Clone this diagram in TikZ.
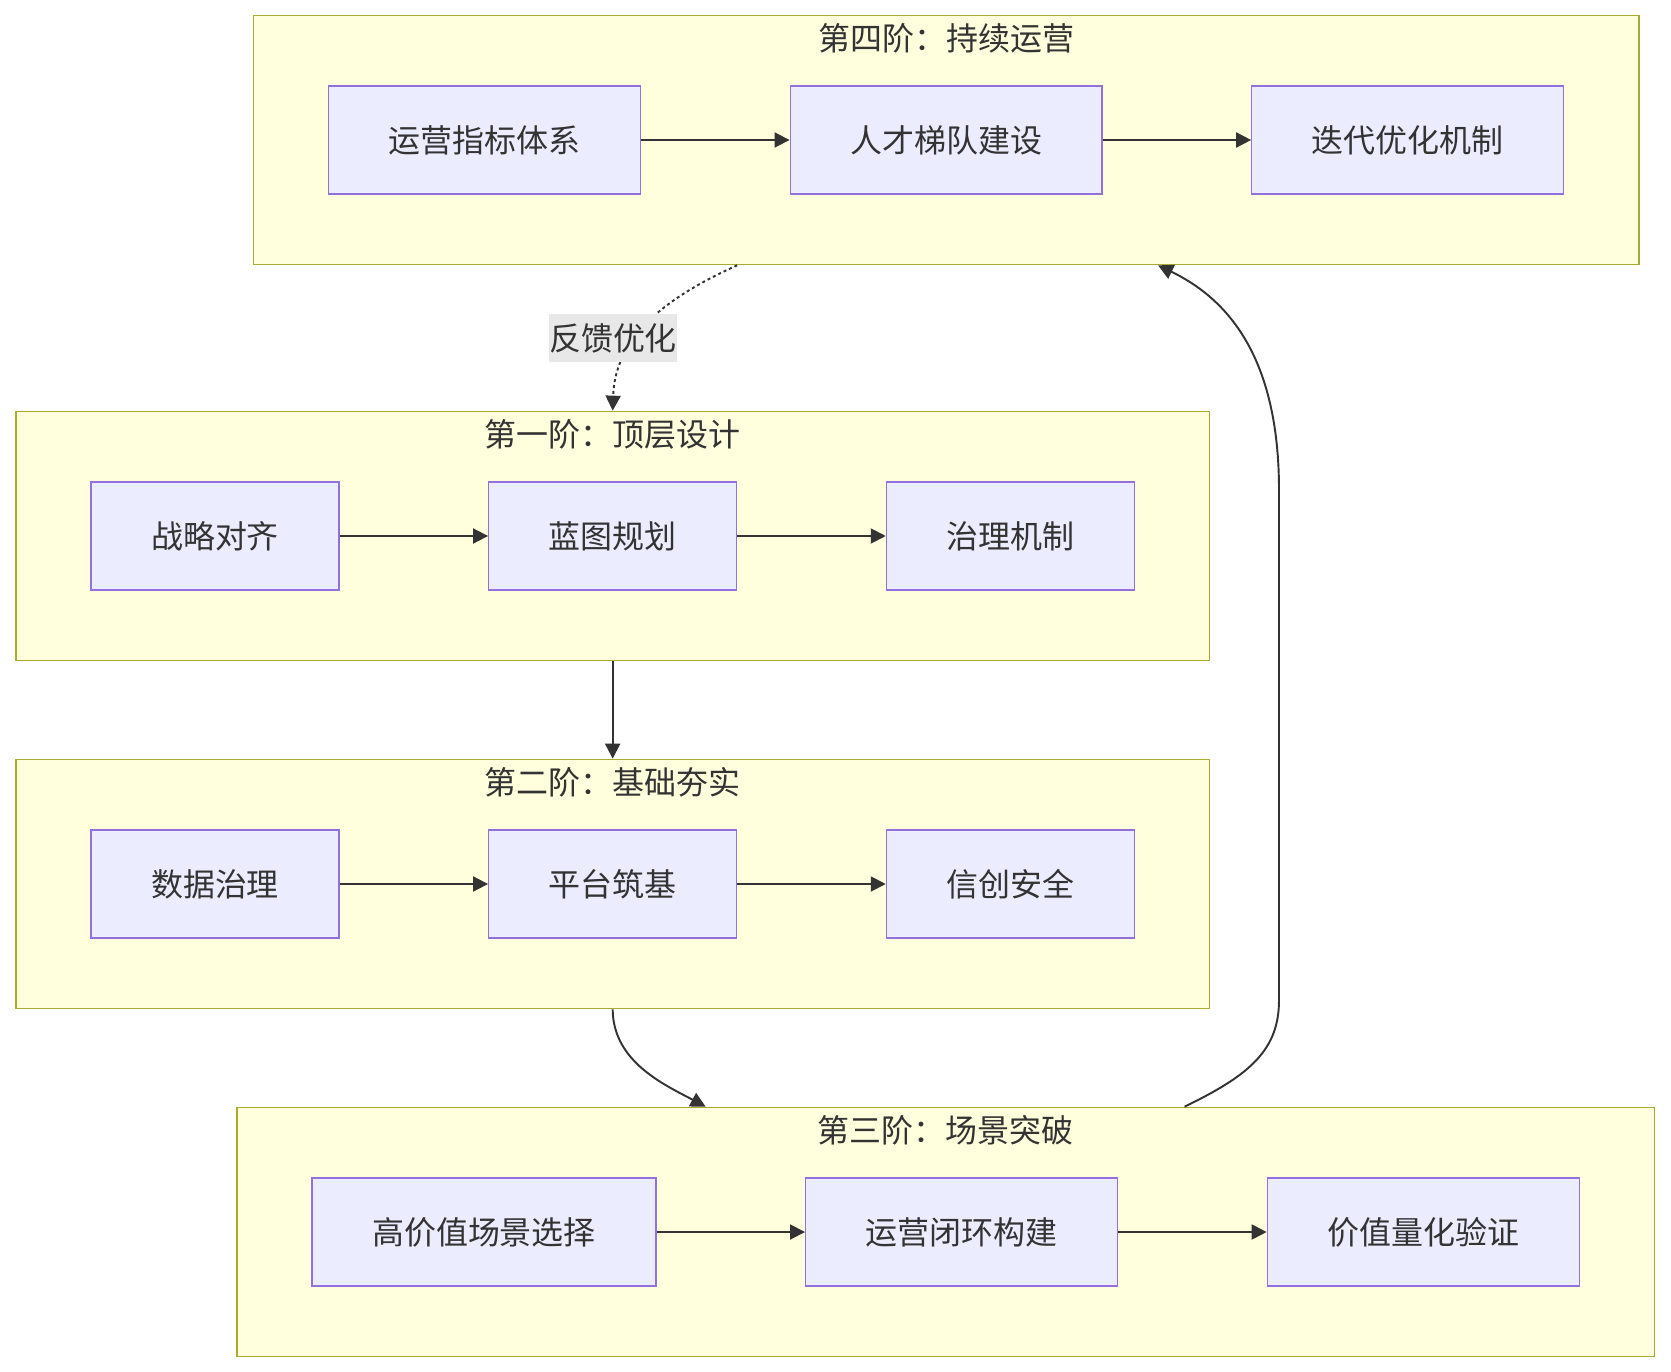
\documentclass[tikz,border=0pt]{standalone}
\usepackage{fontspec}
\setmainfont{Noto Sans CJK SC}
\usepackage{xcolor}
\usepackage{tikz}
\usetikzlibrary{arrows.meta,positioning,fit,backgrounds}
\definecolor{ink}{HTML}{333333}
\definecolor{stagefill}{HTML}{FFFFDE}
\definecolor{stageline}{HTML}{AAAA33}
\definecolor{stepfill}{HTML}{ECECFF}
\definecolor{stepline}{HTML}{9370DB}
\definecolor{tagfill}{HTML}{E8E8E8}
\tikzset{
  stepbox/.style  ={draw=stepline,line width=0.75pt,fill=stepfill,text=ink,
                    minimum height=2.16cm,inner xsep=1.2cm,inner ysep=0pt},
  stage/.style    ={draw=stageline,line width=0.8pt,fill=stagefill,
                    inner xsep=1.49cm,inner ysep=1.4cm},
  stagetitle/.style={text=ink,inner sep=0pt},
  flow/.style     ={-{Triangle[length=3mm,width=3mm]},line width=1.1pt,draw=ink},
  feedback/.style ={flow,dash pattern=on 1.7pt off 1.7pt},
  tag/.style      ={fill=tagfill,text=ink,inner xsep=0pt,inner ysep=0pt,
                    minimum height=0.96cm}
}

\begin{document}
\begin{tikzpicture}[x=0.02cm,y=-0.02cm,every node/.style={font=\fontsize{18.2pt}{22pt}\selectfont},
                    node distance=2.97cm]
        \useasboundingbox (0,0) rectangle (1671,1372);
        \node[stepbox] (ind) at (484.5,140) {运营指标体系};
        \node[stepbox,right=of ind] (talent) {人才梯队建设};
        \node[stepbox,right=of talent] (iter) {迭代优化机制};
        \node[stepbox] (strat) at (215,536) {战略对齐};
        \node[stepbox,right=of strat] (blue) {蓝图规划};
        \node[stepbox,right=of blue] (gov) {治理机制};
        \node[stepbox] (data) at (215,884) {数据治理};
        \node[stepbox,right=of data] (plat) {平台筑基};
        \node[stepbox,right=of plat] (xc) {信创安全};
        \node[stepbox] (pick) at (484,1232) {高价值场景选择};
        \node[stepbox,right=of pick] (loop) {运营闭环构建};
        \node[stepbox,right=of loop] (value) {价值量化验证};
        \begin{scope}[on background layer]
          \node[stage,fit=(ind)(iter)] (s4) {};
          \node[stage,fit=(strat)(gov)] (s1) {};
          \node[stage,fit=(data)(xc)] (s2) {};
          \node[stage,fit=(pick)(value)] (s3) {};
        \end{scope}
        \node[stagetitle] (s4t) at ([yshift=-0.47cm]s4.north) {第四阶：持续运营};
        \node[stagetitle] (s1t) at ([yshift=-0.47cm]s1.north) {第一阶：顶层设计};
        \node[stagetitle] (s2t) at ([yshift=-0.47cm]s2.north) {第二阶：基础夯实};
        \node[stagetitle] (s3t) at ([yshift=-0.47cm]s3.north) {第三阶：场景突破};
        \draw[flow] (ind) -- (talent);
        \draw[flow] (talent) -- (iter);
        \draw[flow] (strat) -- (blue);
        \draw[flow] (blue) -- (gov);
        \draw[flow] (data) -- (plat);
        \draw[flow] (plat) -- (xc);
        \draw[flow] (pick) -- (loop);
        \draw[flow] (loop) -- (value);
        \draw[feedback] ([xshift=-4.18cm]s4.south) .. controls (660,300) and (615,340) .. (s1.north);
        \node[tag] (fb) at (613,338) {反馈优化};
        \draw[flow] (s1.south) -- (s2.north);
        \draw[flow] (s2.south) .. controls (613,1062) and (665,1085) .. ([xshift=-4.8cm]s3.north);
        \draw[flow] ([xshift=4.78cm]s3.north) .. controls (1250,1075) and (1279,1050) .. (1279,1000)
          -- (1279,490) .. controls (1279,360) and (1230,300) .. ([xshift=4.24cm]s4.south);
      \end{tikzpicture}
\end{document}
